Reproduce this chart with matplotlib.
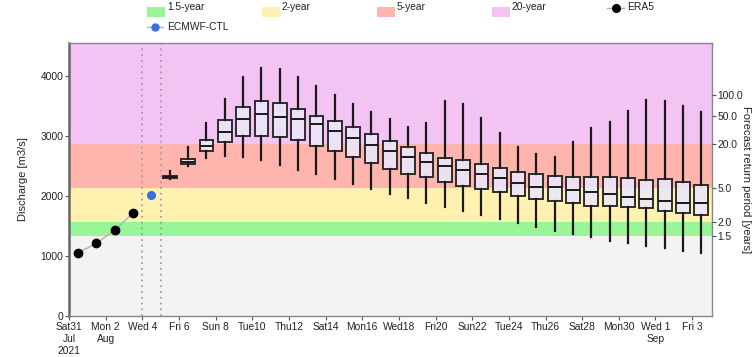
import numpy as np
import matplotlib
matplotlib.use('Agg')
import matplotlib.pyplot as plt
import matplotlib.dates as mdates
import pandas as pd
from matplotlib.patches import Rectangle
from matplotlib.lines import Line2D

plt.rcParams['font.family'] = ['Liberation Sans', 'DejaVu Sans']

# ERA5 reanalysis and control forecast
era5_dates = pd.to_datetime(['2021-07-31 12:00', '2021-08-01 12:00', '2021-08-02 12:00', '2021-08-03 12:00'])
era5_vals = [1055, 1211, 1433, 1717]
ctl_dates = pd.to_datetime(['2021-08-04 12:00'])
ctl_vals = [2022]

# ensemble boxes, one per day
box_dates = pd.date_range('2021-08-05 12:00', '2021-09-03 12:00', freq='D')
whis_hi = [2420, 2822, 3211, 3611, 3978, 4138, 4111, 3989, 3839, 3683, 3539, 3405, 3278, 3155, 3211,
           3583, 3528, 3305, 3055, 2822, 2695, 2655, 2895, 3128, 3239, 3417, 3600, 3583, 3505, 3405]
q3 = [2335, 2612, 2933, 3267, 3478, 3589, 3545, 3445, 3339, 3255, 3145, 3028, 2917, 2811, 2711,
      2628, 2595, 2528, 2461, 2405, 2367, 2333, 2311, 2311, 2317, 2295, 2267, 2278, 2239, 2178]
med = [2310, 2572, 2838, 3072, 3278, 3361, 3322, 3283, 3200, 3083, 2972, 2850, 2750, 2650, 2565,
       2500, 2433, 2361, 2295, 2222, 2155, 2145, 2100, 2061, 2028, 1989, 1955, 1917, 1889, 1878]
q1 = [2298, 2528, 2750, 2905, 3000, 3005, 2983, 2933, 2839, 2750, 2655, 2545, 2450, 2361, 2311,
      2239, 2172, 2122, 2061, 2000, 1955, 1922, 1889, 1839, 1833, 1822, 1795, 1750, 1722, 1683]
whis_lo = [2285, 2500, 2628, 2672, 2655, 2600, 2517, 2433, 2361, 2283, 2205, 2117, 2039, 1961, 1886,
           1822, 1750, 1683, 1622, 1555, 1489, 1422, 1367, 1322, 1255, 1211, 1167, 1128, 1089, 1055]

# return period thresholds (discharge)
thr_15, thr_2, thr_5, thr_20 = 1330, 1561, 2133, 2867
rp_labels = ['1.5', '2.0', '5.0', '20.0', '50.0', '100.0']
rp_pos = [1330, 1561, 2133, 2867, 3334, 3685]

tick_dates = pd.date_range('2021-07-31', '2021-09-03', freq='2D')
tick_labels = ['Sat31\nJul\n2021', 'Mon 2\nAug', 'Wed 4', 'Fri 6', 'Sun 8', 'Tue10', 'Thu12', 'Sat14',
               'Mon16', 'Wed18', 'Fri20', 'Sun22', 'Tue24', 'Thu26', 'Sat28', 'Mon30', 'Wed 1\nSep', 'Fri 3']

fs = 7.4
fig = plt.figure(figsize=(7.55, 3.57), dpi=100)
ax = fig.add_axes([69/755, 1-316/357, (712-69)/755, (316-43)/357])
ymax = 4550

ax.axhspan(0, thr_15, color='#f3f3f3', lw=0)
ax.axhspan(thr_15, thr_2, color='#98f698', lw=0)
ax.axhspan(thr_2, thr_5, color='#fff2b0', lw=0)
ax.axhspan(thr_5, thr_20, color='#ffb4ad', lw=0)
ax.axhspan(thr_20, ymax, color='#f3c4f3', lw=0)

for d in ['2021-08-04', '2021-08-05']:
    ax.axvline(mdates.date2num(pd.Timestamp(d)), color='#a0a0a0', ls=(0, (1, 2.2)), lw=1.3)

ax.plot(era5_dates, era5_vals, color='#b0b0b0', lw=1, marker='o', ms=6,
        mfc='black', mec='black', zorder=5)
ax.plot(ctl_dates, ctl_vals, ls='none', marker='o', ms=5.5, mfc='#3a6ee8', mec='#3a6ee8', zorder=5)

stats = []
for i in range(len(box_dates)):
    stats.append(dict(whislo=whis_lo[i], q1=q1[i], med=med[i], q3=q3[i], whishi=whis_hi[i], fliers=[]))
ax.bxp(stats, positions=mdates.date2num(box_dates), widths=0.75, showcaps=False, patch_artist=True,
       boxprops=dict(facecolor='#ece6f8', edgecolor='#1a1a1a', lw=1.4, alpha=0.9),
       medianprops=dict(color='#1a1a1a', lw=1.4),
       whiskerprops=dict(color='#1a1a1a', lw=1.6), manage_ticks=False, zorder=4)

ax.set_xlim(mdates.date2num(pd.Timestamp('2021-07-31')), mdates.date2num(pd.Timestamp('2021-09-04 02:00')))
ax.set_ylim(0, ymax)
ax.set_xticks(mdates.date2num(tick_dates))
ax.set_xticklabels(tick_labels, fontsize=fs, color='#222222', linespacing=1.25)
ax.set_yticks([0, 1000, 2000, 3000, 4000])
ax.set_yticklabels(['0', '1000', '2000', '3000', '4000'], fontsize=fs, color='#222222')
ax.tick_params(length=3, width=0.8, colors='#555555', labelcolor='#222222', pad=1)
ax.set_ylabel('Discharge [m3/s]', fontsize=fs + 0.6, color='#222222', labelpad=9)
for s in ax.spines.values():
    s.set_color('#888888')
    s.set_linewidth(1.0)
ax.spines['left'].set_color('#666666')
ax.spines['left'].set_linewidth(1.8)

ax2 = ax.twinx()
ax2.set_ylim(0, ymax)
ax2.set_yticks(rp_pos)
ax2.set_yticklabels(rp_labels, fontsize=fs, color='#222222')
ax2.tick_params(length=3, width=0.8, colors='#555555', labelcolor='#222222', pad=1)
for s in ax2.spines.values():
    s.set_visible(False)

# legend drawn in figure pixels
W, H = 755, 357
def fx(x):
    return x / W
def fy(y):
    return 1 - y / H

fig.text(fx(746), fy(180), 'Forecast return period [years]', fontsize=fs + 0.6, color='#222222',
         rotation=270, ha='center', va='center')

patches = [('1.5-year', '#98f698', 147), ('2-year', '#fff2b0', 262),
           ('5-year', '#ffb4ad', 377), ('20-year', '#f3c4f3', 492)]
for lab, col, x in patches:
    fig.patches.append(Rectangle((fx(x), fy(17)), 18/W, 10/H, transform=fig.transFigure,
                                 facecolor=col, edgecolor='none'))
    fig.text(fx(x + 20), fy(7.5), lab, fontsize=fs, va='center', ha='left', color='#222222')

fig.lines.append(Line2D([fx(607), fx(624)], [fy(8), fy(8)], transform=fig.transFigure,
                        color='#b0b0b0', lw=1))
fig.lines.append(Line2D([fx(615.5)], [fy(8)], transform=fig.transFigure, marker='o', ms=5.5,
                        mfc='black', mec='black', ls='none'))
fig.text(fx(627), fy(7.5), 'ERA5', fontsize=fs, va='center', ha='left', color='#222222')

fig.lines.append(Line2D([fx(147), fx(163)], [fy(27), fy(27)], transform=fig.transFigure,
                        color='#b0b0b0', lw=1))
fig.lines.append(Line2D([fx(155)], [fy(27)], transform=fig.transFigure, marker='o', ms=5,
                        mfc='#3a6ee8', mec='#3a6ee8', ls='none'))
fig.text(fx(167), fy(27), 'ECMWF-CTL', fontsize=fs, va='center', ha='left', color='#222222')

fig.savefig('out.png', dpi=100)
